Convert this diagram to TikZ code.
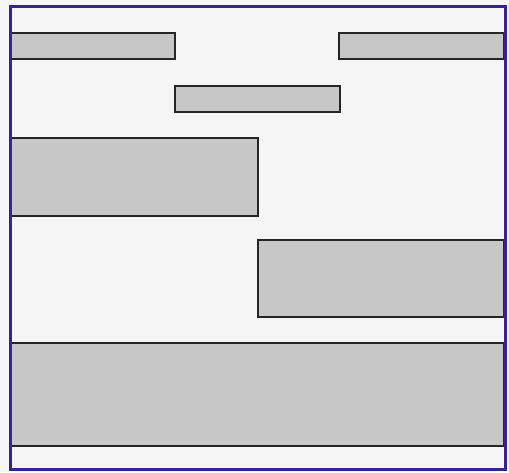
\documentclass[tikz,border=0pt]{standalone}
\definecolor{frameblue}{RGB}{52,36,150}
\begin{document}
\begin{tikzpicture}[x=1pt,y=-1pt,
  bar/.style={draw=black!85,line width=1.3pt,fill=black!22},
  frame/.style={draw=frameblue,line width=3pt}]
\useasboundingbox (0,0) rectangle (509,472);
\fill[black!4] (0,0) rectangle (509,472);
\draw[bar] (11,33) rectangle (175,59);
\draw[bar] (339,33) rectangle (504,59);
\draw[bar] (175,86) rectangle (340,112);
\draw[bar] (11,138) rectangle (258,216);
\draw[bar] (258,240) rectangle (504,317);
\draw[bar] (11,343) rectangle (504,446);
\draw[frame] (10,6) rectangle (505,469);
\end{tikzpicture}
\end{document}
